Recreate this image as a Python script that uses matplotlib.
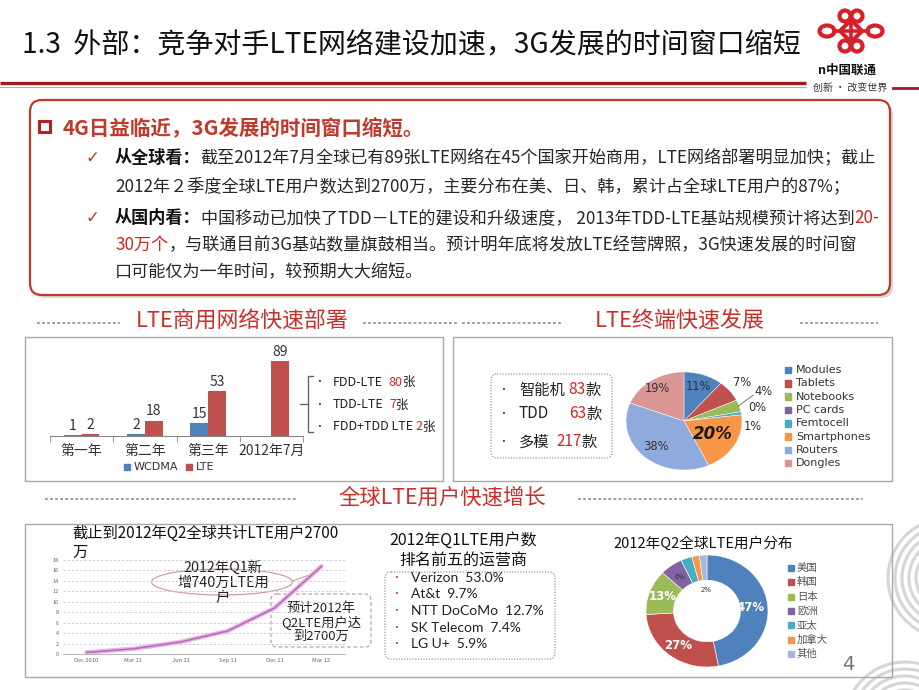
import numpy as np
import matplotlib
matplotlib.use('Agg')
import matplotlib.pyplot as plt
from matplotlib.patches import FancyBboxPatch, Rectangle, Ellipse, Circle, Arc, Polygon

plt.rcParams['font.family'] = ['Noto Sans CJK SC', 'DejaVu Sans']

# ---------------- data ----------------
bar_categories = ['第一年', '第二年', '第三年', '2012年7月']
wcdma_networks = [1, 2, 15, np.nan]
lte_networks = [2, 18, 53, 89]
lte_types = ['FDD-LTE', 'TDD-LTE', 'FDD+TDD LTE']
lte_type_counts = [80, 7, 2]

terminal_types = ['智能机', 'TDD', '多模']
terminal_counts = [83, 63, 217]
device_labels = ['Modules', 'Tablets', 'Notebooks', 'PC cards', 'Femtocell',
                 'Smartphones', 'Routers', 'Dongles']
device_share = [11, 7, 4, 0, 1, 20, 38, 19]

user_months = ['Dec 2010', 'Mar 11', 'Jun 11', 'Sep 11', 'Dec 11', 'Mar 12']
lte_users = [0.3, 1.0, 2.3, 4.4, 8.8, 16.8]
user_yticks = [0, 2, 4, 6, 8, 10, 12, 14, 16, 18]

operators = ['Verizon', 'At&t', 'NTT DoCoMo', 'SK Telecom', 'LG U+']
operator_share = [53.0, 9.7, 12.7, 7.4, 5.9]

regions = ['美国', '韩国', '日本', '欧洲', '亚太', '加拿大', '其他']
region_share = [47, 27, 13, 6, 3, 2, 2]

# ---------------- figure ----------------
W, H = 920, 690
fig = plt.figure(figsize=(9.2, 6.9), dpi=100)
fig.patch.set_facecolor('white')
bg = fig.add_axes([0, 0, 1, 1])
bg.set_xlim(0, W)
bg.set_ylim(H, 0)
bg.axis('off')
renderer = fig.canvas.get_renderer()

RED = '#C8302C'
DARK = '#262626'
GRAY = '#9a9a9a'
C_BLUE, C_RED, C_GREEN, C_PURPLE, C_CYAN, C_ORANGE = '#4F81BD', '#C0504D', '#9BBB59', '#8064A2', '#4BACC6', '#F79646'


def px_axes(x0, y0, x1, y1):
    return fig.add_axes([x0 / W, 1 - y1 / H, (x1 - x0) / W, (y1 - y0) / H])


def rich(x, y, parts, size, target=None, ha='left', family=None):
    texts = []

    def layout(sz):
        for t in texts:
            t.remove()
        texts.clear()
        cx = x
        for p in parts:
            if isinstance(p, (int, float)):
                cx += p * sz / 10.0
                continue
            s, col, wt = p[:3]
            st = p[3] if len(p) > 3 else 'normal'
            kw = {}
            if family:
                kw['family'] = family
            t = bg.text(cx, y, s, fontsize=sz, color=col, fontweight=wt, fontstyle=st,
                        va='center', ha='left', **kw)
            texts.append(t)
            cx += t.get_window_extent(renderer).width
        return cx - x

    w = layout(size)
    if target:
        size = size * target / w
        w = layout(size)
    if ha == 'center':
        for t in texts:
            t.set_x(t.get_position()[0] - w / 2)
    return size


# ---------------- header ----------------
rich(22, 45, [('1.3  外部：竞争对手LTE网络建设加速，3G发展的时间窗口缩短', '#111111', 'normal')],
     20, target=778)
bg.plot([0, 806], [83, 83], color='#9E1B1B', lw=2.4, solid_capstyle='butt')
bg.plot([0, 806], [86.5, 86.5], color='#D4A0A0', lw=0.7)
bg.plot([893, 920], [88, 88], color='#9E1B1B', lw=2.0)

# logo (knot)
lc = '#D7202A'
for (cx, cy) in [(845, 16), (857, 16), (845, 46), (857, 46)]:
    bg.add_patch(Circle((cx, cy), 5.5, fill=False, ec=lc, lw=3.0))
for cx in (827, 875):
    bg.add_patch(Ellipse((cx, 31), 15, 11, fill=False, ec=lc, lw=3.0))
bg.add_patch(Polygon([(851, 20), (862, 31), (851, 42), (840, 31)], closed=True, fill=False, ec=lc, lw=3.0))
bg.plot([834, 868], [31, 31], color=lc, lw=2.6)
bg.plot([851, 851], [21, 41], color=lc, lw=2.6)
bg.text(847, 70, 'n中国联通', fontsize=9, fontweight='bold', color='#111111', ha='center', va='center')
bg.text(850, 88, '创新 · 改变世界', fontsize=7.2, color='#333333', ha='center', va='center')

# ---------------- main text box ----------------
bg.add_patch(FancyBboxPatch((33, 103), 860, 195, boxstyle='round,pad=0,rounding_size=12',
                            fc='#d8d8d8', ec='none', zorder=1))
bg.add_patch(FancyBboxPatch((30, 100), 860, 195, boxstyle='round,pad=0,rounding_size=12',
                            fc='white', ec='#C0392B', lw=1.6, zorder=2))
bg.add_patch(Rectangle((39, 121), 11, 11, fill=False, ec='#B22222', lw=2.2, zorder=3))
rich(63, 128, [('4G日益临近，3G发展的时间窗口缩短。', '#C0392B', 'bold')], 14, target=362)

for yy in (158, 218):
    bg.text(92, yy, '✓', fontsize=12, color='#C0392B', ha='center', va='center', family='DejaVu Sans')

bs = rich(115, 158, [('从全球看：', '#111111', 'bold'),
                     ('截至2012年7月全球已有89张LTE网络在45个国家开始商用，LTE网络部署明显加快；截止', DARK, 'normal')],
          12, target=758)
rich(115, 186, [('2012年２季度全球LTE用户数达到2700万，主要分布在美、日、韩，累计占全球LTE用户的87%；', DARK, 'normal')], bs)
rich(115, 218, [('从国内看：', '#111111', 'bold'),
                ('中国移动已加快了TDD－LTE的建设和升级速度， 2013年TDD-LTE基站规模预计将达到', DARK, 'normal'),
                ('20-', '#D0261E', 'normal')], bs)
rich(115, 245, [('30万个', '#D0261E', 'normal'),
                ('，与联通目前3G基站数量旗鼓相当。预计明年底将发放LTE经营牌照，3G快速发展的时间窗', DARK, 'normal')], bs)
rich(115, 272, [('口可能仅为一年时间，较预期大大缩短。', DARK, 'normal')], bs)

# ---------------- section headers ----------------
def dotted(x0, x1, y):
    bg.plot([x0, x1], [y, y], color=GRAY, lw=1.3, linestyle=(0, (1.6, 1.2)))

rich(242, 322, [('LTE商用网络快速部署', RED, 'normal')], 15, target=213, ha='center')
dotted(37, 120, 323)
dotted(363, 458, 323)
rich(680, 322, [('LTE终端快速发展', RED, 'normal')], 15, target=170, ha='center')
dotted(462, 562, 323)
dotted(800, 878, 323)
rich(442, 498, [('全球LTE用户快速增长', RED, 'normal')], 15, target=208, ha='center')
dotted(45, 297, 499)
dotted(578, 863, 499)

# panel boxes
for (x0, y0, x1, y1) in [(25, 337, 443, 481), (453, 337, 892, 481), (25, 524, 892, 677)]:
    bg.add_patch(Rectangle((x0, y0), x1 - x0, y1 - y0, fill=False, ec='#a8a8a8', lw=1.0))

# decorative arcs bottom right
for r in np.arange(18, 66, 7):
    bg.add_patch(Arc((948, 578), 2 * r, 2 * r, theta1=0, theta2=360, ec='#d6d6d6', lw=2.2, zorder=0.5))
    bg.add_patch(Arc((905, 722), 2 * r, 2 * r, theta1=180, theta2=300, ec='#d6d6d6', lw=2.2, zorder=0.5))

# ---------------- bar chart ----------------
axb = px_axes(50, 352, 303, 436)
xb = np.arange(len(bar_categories))
bw = 0.28
axb.bar(xb - bw / 2, wcdma_networks, bw, color=C_BLUE)
axb.bar(xb + bw / 2, lte_networks, bw, color=C_RED)
for i, v in enumerate(wcdma_networks):
    if not np.isnan(v):
        axb.text(i - bw / 2, v + 3, f'{v:g}', ha='center', va='bottom', fontsize=10, color='#333333')
for i, v in enumerate(lte_networks):
    axb.text(i + bw / 2, v + 3, f'{v:g}', ha='center', va='bottom', fontsize=10, color='#333333')
axb.set_xlim(-0.5, len(bar_categories) - 0.5)
axb.set_ylim(0, 100)
axb.set_xticks(xb)
axb.set_xticklabels(bar_categories, fontsize=10, color='#333333')
axb.set_xticks(np.arange(-0.5, len(bar_categories)), minor=True)
axb.tick_params(axis='x', which='major', length=0, pad=6)
axb.tick_params(axis='x', which='minor', length=4, color='#888888')
axb.set_yticks([])
for s in ['top', 'right', 'left']:
    axb.spines[s].set_visible(False)
axb.spines['bottom'].set_color('#888888')
axb.patch.set_alpha(0)
# legend
bg.add_patch(Rectangle((124, 463.5), 6.5, 6.5, color=C_BLUE))
bg.text(134, 467, 'WCDMA', fontsize=8, color='#333333', va='center', family='DejaVu Sans')
bg.add_patch(Rectangle((186, 463.5), 6.5, 6.5, color=C_RED))
bg.text(196, 467, 'LTE', fontsize=8, color='#333333', va='center', family='DejaVu Sans')

# bracket
bg.plot([313, 308, 308, 313], [376, 376, 432, 432], color='#666666', lw=1)
bg.plot([300, 308], [404, 404], color='#666666', lw=1)
type_y = [382, 405, 427]
for name, cnt, yy in zip(lte_types, lte_type_counts, type_y):
    bg.text(319, yy, '•', fontsize=7, color='#333333', va='center', ha='center')
    gap = 6 if name != 'FDD+TDD LTE' else 3
    rich(333, yy, [(name, '#222222', 'normal'), gap, (f'{cnt}', '#D0261E', 'normal'), ('张', '#222222', 'normal')],
         9.0)

# ---------------- terminal list + pie ----------------
bg.add_patch(FancyBboxPatch((491, 374), 121, 84, boxstyle='round,pad=0,rounding_size=6',
                            fill=False, ec='#999999', lw=0.9, linestyle=(0, (1, 1.2))))
term_y = [390, 414, 442]
term_gap = [3, 18, 6]
for name, cnt, yy, g in zip(terminal_types, terminal_counts, term_y, term_gap):
    bg.text(503, yy, '•', fontsize=7, color='#333333', va='center', ha='center')
    rich(519, yy, [(name, '#222222', 'normal'), g, (f'{cnt}', '#D0261E', 'normal'), ('款', '#222222', 'normal')], 11)

axp = px_axes(626, 372, 742, 470)
pie_colors = [C_BLUE, C_RED, C_GREEN, C_PURPLE, C_CYAN, C_ORANGE, '#8FAADC', '#D99694']
wedges, _ = axp.pie(device_share, colors=pie_colors, startangle=90, counterclock=False,
                    wedgeprops=dict(edgecolor='white', linewidth=0.3))
axp.set_aspect('auto')
axp.set_xlim(-1, 1)
axp.set_ylim(-1, 1)
label_r = [0.75, 1.27, 1.5, 1.3, 1.2, 0.57, 0.72, 0.8]
label_da = [0, 0, 6, 1, -14, 0, 0, 0]
for w, v, r, da in zip(wedges, device_share, label_r, label_da):
    ang = np.deg2rad((w.theta1 + w.theta2) / 2 + da)
    x, y = r * np.cos(ang), r * np.sin(ang)
    if v == 20:
        axp.text(x, y, f'{v}%', ha='center', va='center', fontsize=12, fontweight='bold',
                 fontstyle='italic', color='#1a1a1a', family='DejaVu Sans')
    else:
        axp.text(x, y, f'{v}%', ha='center', va='center', fontsize=8.3, color='#333333',
                 family='DejaVu Sans', clip_on=False)
# leader for notebooks
wn = wedges[2]
a = np.deg2rad((wn.theta1 + wn.theta2) / 2)
axp.plot([0.98 * np.cos(a), 1.3 * np.cos(a + 0.1)], [0.98 * np.sin(a), 1.3 * np.sin(a + 0.1)],
         color='#777777', lw=0.7, clip_on=False)

for i, name in enumerate(device_labels):
    yy = 370 + i * 13.3
    bg.add_patch(Rectangle((785, yy - 3.2), 6.5, 6.5, color=pie_colors[i]))
    bg.text(796, yy, name, fontsize=8, color='#333333', va='center', family='DejaVu Sans')

# ---------------- line chart ----------------
bg.text(72, 533, '截止到2012年Q2全球共计LTE用户2700', fontsize=11, color='#111111', va='center')
bg.text(72, 552, '万', fontsize=11, color='#111111', va='center')
axl = px_axes(63, 560, 345, 654)
xl = np.arange(len(user_months))
axl.plot(xl, lte_users, color='#E6B4E6', lw=3.2, solid_capstyle='round')
axl.plot(xl, lte_users, color='#B868B8', lw=1.1)
axl.set_xlim(-0.5, len(user_months) - 0.5)
axl.set_ylim(0, 18)
axl.set_yticks(user_yticks)
axl.set_yticklabels([str(v) for v in user_yticks], fontsize=4, color='#666666')
axl.set_xticks(xl)
axl.set_xticklabels(user_months, fontsize=4.2, color='#666666')
axl.tick_params(length=0, pad=3)
axl.grid(axis='y', color='#c8c8d8', lw=0.6, linestyle=(0, (3, 2)))
for s in ['top', 'right', 'left']:
    axl.spines[s].set_visible(False)
axl.spines['bottom'].set_color('#aaaaaa')
axl.spines['bottom'].set_linewidth(0.6)
axl.patch.set_alpha(0)

bg.add_patch(Ellipse((222, 582), 141, 26, fill=False, ec='#c9a0a8', lw=0.9))
bg.plot([292, 318], [581, 572], color='#c9a0a8', lw=0.8)
for t, yy in zip(['2012年Q1新', '增740万LTE用', '户'], [568, 583, 598]):
    bg.text(223, yy, t, fontsize=10.3, color='#222222', ha='center', va='center')
bg.add_patch(FancyBboxPatch((271, 594), 100, 53, boxstyle='round,pad=0,rounding_size=6',
                            fill=False, ec='#c9a0a8', lw=0.9, linestyle=(0, (3, 2))))
for t, yy in zip(['预计2012年', 'Q2LTE用户达', '到2700万'], [608.5, 622.5, 636.5]):
    bg.text(321, yy, t, fontsize=9.5, color='#222222', ha='center', va='center')

# ---------------- operators ----------------
bg.text(463, 540, '2012年Q1LTE用户数', fontsize=11.5, color='#111111', ha='center', va='center')
bg.text(463, 561, '排名前五的运营商', fontsize=11.5, color='#111111', ha='center', va='center')
bg.add_patch(FancyBboxPatch((385, 572), 170, 87, boxstyle='round,pad=0,rounding_size=6',
                            fill=False, ec='#999999', lw=0.9, linestyle=(0, (1, 1.2))))
op_y = [578, 594.5, 611, 627.5, 644]
for name, v, yy in zip(operators, operator_share, op_y):
    bg.text(396, yy, '•', fontsize=7, color='#C0392B', ha='center', va='center')
    bg.text(411, yy, f'{name}  {v:.1f}%', fontsize=10, color='#222222', va='center', family='Lato')

# ---------------- donut ----------------
bg.text(703, 544, '2012年Q2全球LTE用户分布', fontsize=10.5, color='#111111', ha='center', va='center')
axd = px_axes(646, 555, 768, 667)
donut_colors = [C_BLUE, C_RED, C_GREEN, C_PURPLE, C_CYAN, C_ORANGE, '#A5B6D8']
dw, _ = axd.pie(region_share, colors=donut_colors, startangle=90, counterclock=False,
                wedgeprops=dict(width=0.45, edgecolor='white', linewidth=0.4))
axd.set_aspect('auto')
axd.set_xlim(-1, 1)
axd.set_ylim(-1, 1)
d_r = [0.72, 0.78, 0.78, 0.76, None, None, 0.38]
for w, v, r in zip(dw, region_share, d_r):
    if r is None:
        continue
    ang = np.deg2rad((w.theta1 + w.theta2) / 2)
    x, y = r * np.cos(ang), r * np.sin(ang)
    if v >= 10:
        axd.text(x, y, f'{v}%', ha='center', va='center', fontsize=8.5, fontweight='bold',
                 color='white', family='DejaVu Sans')
    else:
        axd.text(x, y, f'{v}%', ha='center', va='center', fontsize=5, color='#333333',
                 family='DejaVu Sans')
for i, name in enumerate(regions):
    yy = 568 + i * 14.3
    bg.add_patch(Rectangle((788, yy - 3), 6, 6, color=donut_colors[i]))
    bg.text(797, yy, name, fontsize=7.5, color='#555555', va='center')

bg.text(848, 664, '4', fontsize=14, color='#777777', ha='center', va='center', family='DejaVu Sans')

fig.savefig('out.png', dpi=100, facecolor='white')
